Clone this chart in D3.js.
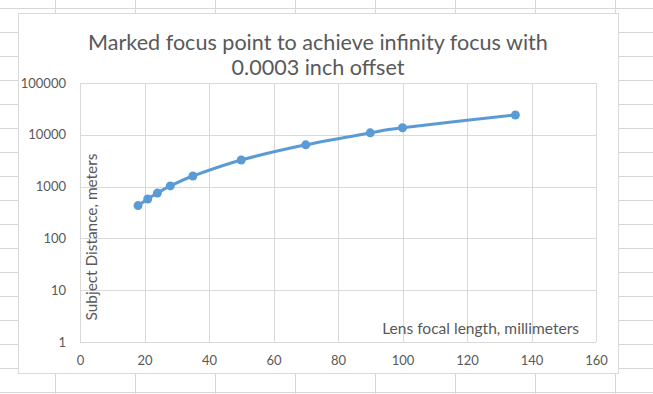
<!DOCTYPE html>
<html>
<head>
<meta charset="utf-8">
<script src="https://cdn.jsdelivr.net/npm/d3@7"></script>
<style>
  html, body { margin: 0; padding: 0; background: #fff; }
  svg { display: block; }
  text { font-family: Lato, "Open Sans", sans-serif; fill: #595959; }
</style>
</head>
<body>
<div class="chart"></div>
<script>
// data
const focalLength = [18, 21, 24, 28, 35, 50, 70, 90, 100, 135];
const distance = [430, 575, 750, 1030, 1600, 3260, 6400, 10900, 13700, 24100];
const xTicks = [0, 20, 40, 60, 80, 100, 120, 140, 160];
const yTicks = [1, 10, 100, 1000, 10000, 100000];
const titleLines = ["Marked focus point to achieve infinity focus with", "0.0003 inch offset"];
const xTitle = "Lens focal length, millimeters";
const yTitle = "Subject Distance, meters";

const width = 653, height = 394;
const plot = {left: 80, right: 596, top: 83, bottom: 342};
const blue = "#5b9bd5";

const svg = d3.select('.chart')
    .append('svg')
    .attr("width", width)
    .attr("height", height);

// spreadsheet cells behind the chart
const sheet = svg.append("g").attr("stroke", "#d6d6d6").attr("stroke-width", 1);
d3.range(-25, width, 80).forEach(x => {
    sheet.append("line").attr("x1", x + 0.5).attr("x2", x + 0.5).attr("y1", 0).attr("y2", height);
});
d3.range(8, height, 24).forEach(y => {
    sheet.append("line").attr("x1", 0).attr("x2", width).attr("y1", y + 0.5).attr("y2", y + 0.5);
});

// chart area
svg.append("rect")
    .attr("x", 18.5).attr("y", 13.5)
    .attr("width", 600).attr("height", 360)
    .attr("fill", "#fff")
    .attr("stroke", "#d9d9d9");

const x = d3.scaleLinear().domain([0, 160]).range([plot.left, plot.right]);
const y = d3.scaleLog().domain([1, 100000]).range([plot.bottom, plot.top]);

// scale a text element's font size so it fills a given width
function fit(sel, w, size) {
    sel.style("font-size", size + "px");
    const len = sel.node().getComputedTextLength();
    const s = +(size * w / len).toFixed(2);
    sel.style("font-size", s + "px");
    return s;
}

// gridlines
const grid = svg.append("g").attr("stroke", "#d9d9d9").attr("stroke-width", 1);
grid.selectAll(".gx").data(xTicks).join("line")
    .attr("x1", d => Math.round(x(d)) + 0.5).attr("x2", d => Math.round(x(d)) + 0.5)
    .attr("y1", plot.top).attr("y2", plot.bottom);
grid.selectAll(".gy").data(yTicks).join("line")
    .attr("x1", plot.left).attr("x2", plot.right)
    .attr("y1", d => Math.round(y(d)) + 0.5).attr("y2", d => Math.round(y(d)) + 0.5);

// axes (labels only, Excel style)
const xAxis = svg.append("g")
    .attr("transform", `translate(0,${plot.bottom})`)
    .call(d3.axisBottom(x).tickValues(xTicks).tickSize(0).tickPadding(14).tickFormat(d3.format("d")));
xAxis.select(".domain").remove();
xAxis.selectAll("text").style("font-size", "13px").style("font-family", "Lato").attr("fill", "#595959");

const yAxis = svg.append("g")
    .attr("transform", `translate(${plot.left},0)`)
    .call(d3.axisLeft(y).tickValues(yTicks).tickSize(0).tickPadding(14).tickFormat(d3.format("d")));
yAxis.select(".domain").remove();
yAxis.selectAll("text").style("font-size", "13px").style("font-family", "Lato").attr("fill", "#595959");

// series
const line = d3.line()
    .x((d, i) => x(focalLength[i]))
    .y(d => y(d))
    .curve(d3.curveCardinal.tension(0));

svg.append("path")
    .datum(distance)
    .attr("fill", "none")
    .attr("stroke", blue)
    .attr("stroke-width", 3)
    .attr("stroke-linecap", "round")
    .attr("d", line);

svg.selectAll(".pt").data(distance).join("circle")
    .attr("cx", (d, i) => x(focalLength[i]))
    .attr("cy", d => y(d))
    .attr("r", 4.5)
    .attr("fill", blue);

// titles
const t1 = svg.append("text")
    .attr("x", 318).attr("y", 50)
    .attr("text-anchor", "middle")
    .text(titleLines[0]);
const titleSize = fit(t1, 460, 20);
svg.append("text")
    .attr("x", 318).attr("y", 75)
    .attr("text-anchor", "middle")
    .style("font-size", titleSize + "px")
    .text(titleLines[1]);

const xt = svg.append("text")
    .attr("x", 579).attr("y", 334)
    .attr("text-anchor", "end")
    .text(xTitle);
fit(xt, 197, 14);

const yt = svg.append("text")
    .attr("transform", "translate(97,237) rotate(-90)")
    .attr("text-anchor", "middle")
    .text(yTitle);
fit(yt, 167, 14);
</script>
</body>
</html>
